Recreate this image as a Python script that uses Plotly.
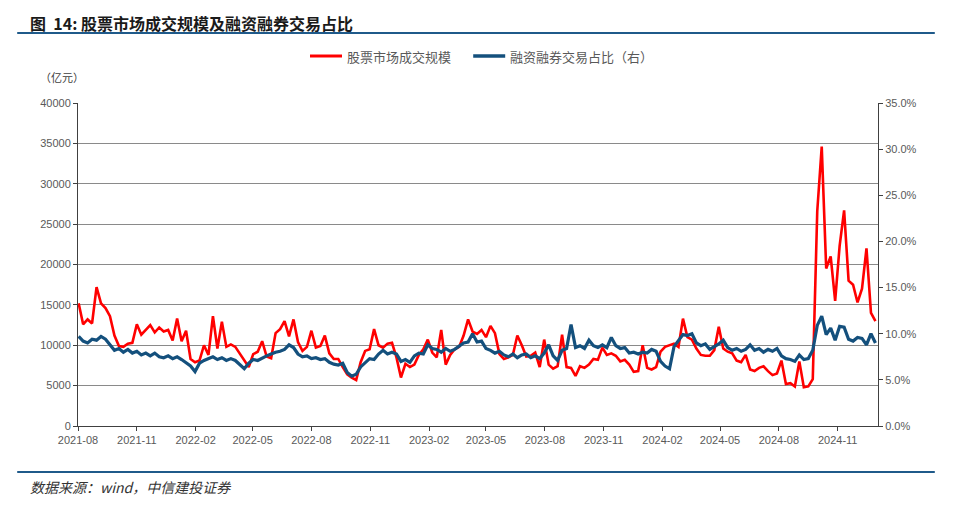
import pandas as pd
import plotly.graph_objects as go

# Weekly readings, 2021-08-02 .. 2024-12-30
START_DATE = '2021-08-02'

# 股票市场成交规模 (亿元)
TURNOVER = [
    15200, 12600, 13200, 12700, 17200, 15200, 14600, 13600, 11200, 9900,
    9800, 10200, 10300, 12600, 11300, 11900, 12500, 11600, 12200, 11700,
    11900, 10600, 13300, 10500, 11800, 8300, 7900, 8100, 10000, 8800,
    13600, 9600, 12900, 9800, 10100, 9800, 9000, 8200, 7300, 8900,
    9200, 10500, 8600, 8400, 11500, 12000, 13000, 11100, 13200, 10400,
    9300, 9800, 11800, 9700, 9900, 11200, 9000, 8300, 8300, 7300,
    6400, 6000, 5700, 7900, 9300, 9500, 12000, 10000, 9700, 10200,
    10300, 8500, 6000, 7700, 7300, 7600, 8800, 9500, 10700, 9100,
    8500, 11900, 7600, 8800, 9500, 9800, 11200, 13200, 11700, 11400,
    11900, 11000, 12400, 11500, 8900, 8300, 8500, 8800, 11200, 10000,
    8600, 8700, 9100, 7300, 10700, 7600, 7100, 7400, 11300, 7300,
    7200, 6200, 7400, 7200, 7600, 8300, 8200, 9700, 8800, 9000,
    8700, 8000, 8200, 7600, 6700, 6800, 10000, 7200, 7000, 7300,
    9200, 9800, 10000, 10200, 9800, 13300, 11000, 10700, 9600, 8800,
    8700, 8700, 9400, 12300, 9600, 9200, 9000, 8100, 7900, 8800,
    7000, 6800, 7200, 7400, 6800, 6300, 6500, 8100, 5200, 5300,
    4900, 8000, 4800, 4900, 5800, 26600, 34600, 19500, 21000, 15500,
    22300, 26700, 18000, 17500, 15300, 17000, 22000, 14000, 13000,
]

# 融资融券交易占比 (%, 右轴)
MARGIN_SHARE = [
    9.7, 9.2, 9.0, 9.4, 9.3, 9.7, 9.4, 8.8, 8.2, 8.4,
    8.0, 8.3, 7.9, 8.1, 7.7, 7.9, 7.6, 7.9, 7.5, 7.4,
    7.6, 7.3, 7.5, 7.2, 6.9, 6.5, 5.9, 6.8, 7.1, 7.3,
    7.5, 7.2, 7.4, 7.1, 7.3, 7.1, 6.6, 6.2, 6.8, 7.2,
    7.1, 7.4, 7.6, 7.8, 8.0, 8.1, 8.3, 8.8, 8.5, 7.8,
    7.5, 7.6, 7.3, 7.4, 7.2, 7.3, 6.9, 6.7, 6.6, 6.8,
    5.8, 5.4, 5.6, 6.4, 6.9, 7.3, 7.2, 7.8, 8.2, 7.8,
    8.0, 7.8, 7.0, 7.2, 6.9, 7.6, 7.9, 7.8, 8.8, 8.4,
    8.3, 8.0, 8.4, 8.1, 8.3, 8.6, 9.0, 9.1, 10.0, 9.1,
    9.2, 8.4, 8.2, 7.9, 8.1, 7.7, 7.5, 7.8, 7.4, 7.7,
    7.8, 7.4, 7.6, 7.3, 7.9, 8.8, 7.6, 7.1, 8.2, 8.4,
    11.0, 8.5, 8.7, 8.4, 9.3, 8.7, 8.5, 8.8, 8.5, 9.6,
    8.7, 8.4, 8.5, 7.9, 8.0, 7.8, 8.0, 7.9, 8.3, 8.1,
    7.0, 6.5, 6.2, 8.6, 9.3, 9.9, 9.8, 10.0, 9.0, 8.7,
    8.9, 8.3, 8.6, 8.9, 9.3, 8.5, 8.2, 8.4, 8.1, 8.3,
    8.8, 8.2, 8.4, 8.0, 8.3, 8.1, 8.4, 7.6, 7.3, 7.2,
    7.0, 7.7, 7.2, 7.3, 8.2, 10.9, 11.9, 9.9, 10.6, 9.3,
    10.8, 10.7, 9.4, 9.2, 9.6, 9.5, 8.8, 10.0, 9.0,
]

TICK_MONTHS = ['2021-08', '2021-11', '2022-02', '2022-05', '2022-08', '2022-11',
               '2023-02', '2023-05', '2023-08', '2023-11', '2024-02', '2024-05',
               '2024-08', '2024-11']

SERIES_NAMES = ['股票市场成交规模', '融资融券交易占比（右）']

RED = '#ff0000'
BLUE = '#14507d'
RULE = '#1f5a8a'
GRAY = '#595959'
CJK = 'Noto Sans CJK SC'
LATIN = 'Liberation Sans'

dates = pd.date_range(START_DATE, periods=len(TURNOVER), freq='7D')

fig = go.Figure()
fig.add_trace(go.Scatter(
    x=dates, y=TURNOVER, name=SERIES_NAMES[0], mode='lines',
    line=dict(color=RED, width=2.6),
))
fig.add_trace(go.Scatter(
    x=dates, y=[v / 100 for v in MARGIN_SHARE], name=SERIES_NAMES[1],
    mode='lines', yaxis='y2', line=dict(color=BLUE, width=3.2),
))

# page has an 8px body margin, so the figure is 944x492 placed at (8, 8)
fig.update_layout(
    width=944, height=492, autosize=False,
    paper_bgcolor='white', plot_bgcolor='white',
    margin=dict(l=70, r=74, t=95, b=74),
    font=dict(family=LATIN, size=11, color=GRAY),
    showlegend=False,
    xaxis=dict(
        type='date', range=['2021-08-01', '2025-01-03'],
        tickvals=[m + '-01' for m in TICK_MONTHS], ticktext=TICK_MONTHS,
        showgrid=False, showline=True, linecolor='#404040', linewidth=1,
        ticks='outside', ticklen=4, tickcolor='#404040',
        tickfont=dict(family=LATIN, size=11, color=GRAY),
    ),
    yaxis=dict(
        range=[0, 40000], dtick=5000, tickformat='d',
        showgrid=True, gridcolor='#8a8a8a', gridwidth=1,
        showline=True, linecolor='#404040', linewidth=1,
        ticks='outside', ticklen=4, tickcolor='#404040', zeroline=False,
        tickfont=dict(family=LATIN, size=11, color=GRAY),
    ),
    yaxis2=dict(
        overlaying='y', side='right', range=[0, 0.35], dtick=0.05,
        tickformat='.1%', showgrid=False, zeroline=False,
        showline=True, linecolor='#404040', linewidth=1,
        ticks='outside', ticklen=4, tickcolor='#404040',
        tickfont=dict(family=LATIN, size=11, color=GRAY),
    ),
)

# legend drawn by hand so the spacing matches
legend_y = 1.1455
for (x0, x1, tx), name, color, w in zip(
        [(0.29, 0.33, 0.334), (0.494, 0.534, 0.537)], SERIES_NAMES, [RED, BLUE], [3, 3.5]):
    fig.add_shape(type='line', xref='paper', yref='paper', x0=x0, x1=x1,
                  y0=legend_y, y1=legend_y, line=dict(color=color, width=w))
    fig.add_annotation(xref='paper', yref='paper', x=tx, y=legend_y,
                       xanchor='left', yanchor='middle', text=name, showarrow=False,
                       font=dict(family=CJK, size=13, color=GRAY))

# title, unit label, source note
fig.add_annotation(
    xref='paper', yref='paper', x=-0.0625, y=1.292, xanchor='left', yanchor='top',
    text='<b>图  14: 股票市场成交规模及融资融券交易占比</b>', showarrow=False,
    font=dict(family=CJK, size=16, color='#1a1a1a'),
)
fig.add_annotation(
    xref='paper', yref='paper', x=-0.02, y=1.08, xanchor='center', yanchor='middle',
    text='（亿元）', showarrow=False, font=dict(family=CJK, size=11, color='#404040'),
)
fig.add_annotation(
    xref='paper', yref='paper', x=-0.0625, y=-0.189, xanchor='left', yanchor='middle',
    text='<i>数据来源：wind，中信建投证券</i>', showarrow=False,
    font=dict(family=CJK, size=14, color='#333333'),
)

# rule lines under the title and above the source note
for yy in (1.2167, -0.1424):
    fig.add_shape(type='line', xref='paper', yref='paper', x0=-0.076, x1=1.071,
                  y0=yy, y1=yy, line=dict(color=RULE, width=2))

fig.write_html('out.html')
